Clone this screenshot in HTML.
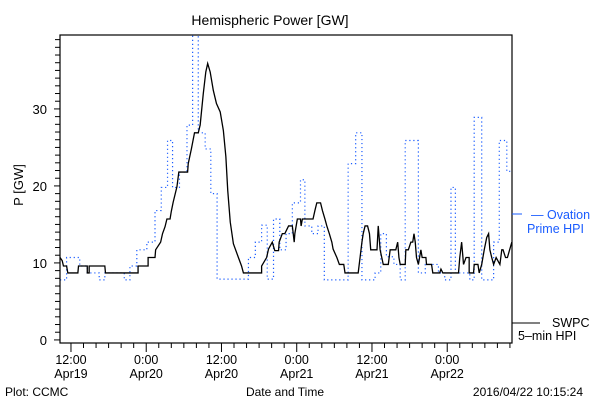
<!DOCTYPE html>
<html><head><meta charset="utf-8"><style>
body{margin:0;background:#fff}
svg{display:block;font-family:"Liberation Sans",sans-serif}
</style></head><body>
<svg width="600" height="400" xmlns="http://www.w3.org/2000/svg">
<text x="270" y="25" font-size="14" text-anchor="middle">Hemispheric Power [GW]</text>
<text transform="translate(23,185) rotate(-90)" font-size="13" text-anchor="middle">P [GW]</text>
<g id="axes"></g>
<g id="series"></g>
<rect x="60" y="35" width="452" height="308" fill="none" stroke="#000" stroke-width="1.2"/>
<line x1="512" y1="214" x2="522" y2="214" stroke="#1a5cff"/>
<text x="531" y="219" font-size="12.5" fill="#1a5cff">— Ovation</text>
<text x="527" y="233" font-size="12.5" fill="#1a5cff">Prime HPI</text>
<line x1="512" y1="323" x2="540" y2="323" stroke="#000"/>
<text x="552" y="327" font-size="12.5">SWPC</text>
<text x="518" y="340" font-size="12.5">5–min HPI</text>
<text x="5" y="396" font-size="12">Plot: CCMC</text>
<text x="285" y="396" font-size="12" text-anchor="middle">Date and Time</text>
<text x="583" y="396" font-size="12" text-anchor="end">2016/04/22 10:15:24</text>
</svg>
<script>
const yTicks=[0,10,20,30];
const xTickHours=[12,24,36,48,60,72];
const xTickLine1=["12:00","0:00","12:00","0:00","12:00","0:00"];
const xTickLine2=["Apr19","Apr20","Apr20","Apr21","Apr21","Apr22"];
const swpcHours=[10.25,10.6,10.8,11.3,11.5,13.1,13.2,14.6,14.6,14.9,14.9,17.4,17.5,22.7,22.7,24.3,24.3,25.4,25.5,26.3,26.6,27.0,27.3,27.8,28.0,28.3,28.9,29.2,30.6,30.7,31.2,31.7,32.3,32.6,33.1,33.5,33.8,34.2,34.7,35.2,35.8,36.3,36.7,37.0,37.4,37.9,38.7,39.2,39.5,42.4,42.4,43.2,43.5,44.1,44.5,45.1,45.2,45.7,46.1,46.7,47.3,47.6,47.7,48.1,48.6,48.7,48.9,50.6,50.9,51.2,51.8,52.1,52.5,52.8,53.2,53.6,53.8,54.4,54.8,55.5,55.7,57.8,58.1,58.4,58.6,58.9,59.3,59.6,59.8,60.8,61.0,61.3,61.8,62.6,62.9,63.8,64.1,64.3,64.5,65.3,65.4,65.8,66.2,66.5,66.7,66.9,67.1,67.4,67.8,68.0,68.6,68.7,69.5,69.7,70.8,71.0,71.3,73.8,74.0,74.3,74.6,75.0,75.5,75.5,76.2,76.3,76.9,77.1,77.5,77.9,78.3,78.6,78.8,79.1,79.4,79.8,80.4,80.7,80.9,81.3,81.6,82.3];
const swpcValues=[10.7,10.3,9.6,9.6,8.7,8.7,9.6,9.6,8.7,8.7,9.6,9.6,8.7,8.7,9.6,9.6,10.7,10.7,11.7,12.7,13.8,14.7,15.7,15.7,16.7,17.9,19.9,21.8,21.8,22.9,24.8,26.9,26.9,27.9,32.0,34.8,35.9,34.8,32.4,30.7,29.6,27.2,23.8,19.4,15.3,12.5,10.7,9.6,8.7,8.7,9.6,10.7,11.8,12.7,11.6,11.6,12.7,13.8,13.8,14.8,14.8,12.7,13.8,15.7,15.7,14.8,15.7,15.7,16.8,17.8,17.8,16.8,15.7,14.8,13.8,12.7,11.8,10.7,9.8,9.8,8.7,8.7,10.7,12.7,13.8,14.8,14.8,13.8,11.7,11.7,14.8,11.7,9.8,9.8,11.7,11.7,12.7,10.7,9.8,9.8,11.7,11.7,12.7,12.7,13.8,12.7,10.7,9.8,11.7,10.7,10.7,9.8,9.8,8.7,8.7,9.2,8.7,8.7,10.7,12.7,9.8,10.7,10.7,8.7,8.7,9.8,9.8,8.7,9.8,11.7,13.3,13.8,11.7,10.7,9.8,10.7,9.8,11.7,11.7,10.7,10.7,12.7,12.7];
const ovHours=[10.25,11.3,11.3,13.4,13.4,14.6,14.6,16.5,16.5,17.4,17.4,20.5,20.5,21.4,21.4,22.5,22.5,24.1,24.1,25.4,25.4,26.4,26.4,27.4,27.4,28.2,28.2,29.3,29.3,30.5,30.5,31.4,31.4,32.3,32.3,33.4,33.4,34.3,34.3,35.3,35.3,40.3,40.3,41.4,41.4,42.4,42.4,43.3,43.3,44.3,44.3,45.3,45.3,46.3,46.3,47.3,47.3,48.6,48.6,49.3,49.3,50.4,50.4,51.4,51.4,52.4,52.4,56.2,56.2,57.4,57.4,58.4,58.4,60.5,60.5,61.4,61.4,62.3,62.3,63.5,63.5,64.5,64.5,65.3,65.3,67.4,67.4,68.5,68.5,70.6,70.6,71.6,71.6,72.6,72.6,73.3,73.3,75.6,75.6,76.3,76.3,77.5,77.5,79.4,79.4,80.3,80.3,81.5,81.5,82.3];
const ovValues=[7.8,7.8,10.7,10.7,9.6,9.6,8.7,8.7,7.8,7.8,8.7,8.7,7.8,7.8,9.6,9.6,11.7,11.7,12.7,12.7,16.8,16.8,19.8,19.8,25.9,25.9,19.8,19.8,21.8,21.8,27.9,27.9,45,45,26.9,26.9,24.8,24.8,19.0,19.0,7.9,7.9,10.7,10.7,12.7,12.7,14.9,14.9,7.9,7.9,15.7,15.7,11.7,11.7,13.8,13.8,17.8,17.8,20.8,20.8,14.8,14.8,13.8,13.8,14.8,14.8,7.8,7.8,22.9,22.9,26.9,26.9,7.8,7.8,8.7,8.7,13.8,13.8,10.8,10.8,9.8,9.8,7.8,7.8,25.9,25.9,8.7,8.7,9.8,9.8,8.7,8.7,7.8,7.8,19.8,19.8,8.7,8.7,7.8,7.8,28.9,28.9,7.8,7.8,12.7,12.7,25.9,25.9,21.9,21.9];

const NS='http://www.w3.org/2000/svg';
const L=60,R=512,T=35,B=343,hMin=10.25,hMax=82.33,vMin=-0.4,vMax=39.6;
function xs(h){return L+(h-hMin)/(hMax-hMin)*(R-L);}
function ys(v){return B-(v-vMin)/(vMax-vMin)*(B-T);}
function mk(tag,attrs,parent){const e=document.createElementNS(NS,tag);for(const k in attrs)e.setAttribute(k,attrs[k]);parent.appendChild(e);return e;}
const ax=document.getElementById('axes');
for(let v=0;v<=39;v++){
  const t=mk('line',{x1:v%10===0?54:55,x2:L,y1:ys(v),y2:ys(v),stroke:'#000'},ax);
  
  
}
yTicks.forEach(v=>{
  const t=mk('text',{x:47,y:ys(v)+5,'font-size':13,'text-anchor':'end'},ax);
  
  
  t.textContent=v;
});
for(let h=12;h<=hMax;h+=2){
  const major=(h%12===0);
  const t=mk('line',{x1:xs(h),x2:xs(h),y1:B,y2:B+(major?9:5),stroke:'#000'},ax);
  
  
}
xTickHours.forEach((h,i)=>{
  const a=mk('text',{x:xs(h),y:364,'font-size':12.5,'text-anchor':'middle'},ax);
  
  
  a.textContent=xTickLine1[i];
  const b=mk('text',{x:xs(h),y:378,'font-size':12.5,'text-anchor':'middle'},ax);
  
  
  b.textContent=xTickLine2[i];
});
const sg=document.getElementById('series');
const clip=mk('clipPath',{id:'pc'},sg);mk('rect',{x:L,y:T,width:R-L,height:B-T},clip);
const ov=mk('polyline',{points:ovHours.map((h,i)=>xs(h)+','+ys(ovValues[i])).join(' '),fill:'none',stroke:'#1a5cff','stroke-width':1.2,'stroke-dasharray':'1.2,2.8','clip-path':'url(#pc)'},sg);


const sw=mk('polyline',{points:swpcHours.map((h,i)=>xs(h)+','+ys(swpcValues[i])).join(' '),fill:'none',stroke:'#000','stroke-width':1.3,'clip-path':'url(#pc)'},sg);


</script>
</body></html>
